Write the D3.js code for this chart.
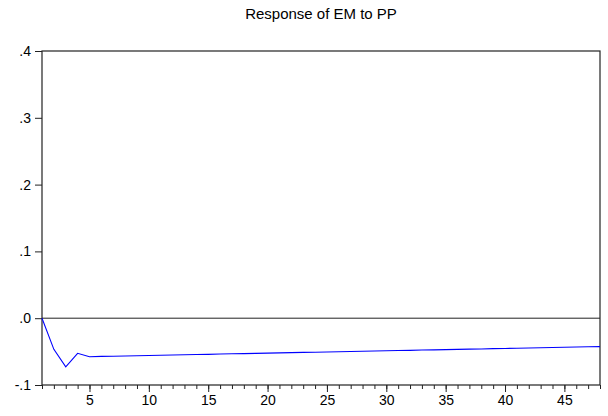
<!DOCTYPE html>
<html>
<head>
<meta charset="utf-8">
<script src="https://cdn.jsdelivr.net/npm/d3@7"></script>
<style>
  body { margin: 0; background: #fff; }
  text { font-family: "Liberation Sans", Arial, sans-serif; fill: #000; }
</style>
</head>
<body>
<div id="chart"></div>
<script>
// impulse response periods and values
var periods = d3.range(1, 49);
var response = [0, -0.0466, -0.0727, -0.0526, -0.0578,
  -0.0572, -0.0570, -0.0566, -0.0562, -0.0558, -0.0555, -0.0551, -0.0548, -0.0544, -0.0541,
  -0.0537, -0.0533, -0.0530, -0.0526, -0.0523, -0.0519, -0.0516, -0.0512, -0.0509, -0.0505,
  -0.0502, -0.0498, -0.0495, -0.0491, -0.0488, -0.0484, -0.0481, -0.0477, -0.0474, -0.0470,
  -0.0467, -0.0463, -0.0460, -0.0456, -0.0453, -0.0449, -0.0446, -0.0442, -0.0439, -0.0435,
  -0.0432, -0.0428, -0.0425];
var yTicks = [-0.1, 0, 0.1, 0.2, 0.3, 0.4];
var yTickLabels = ["-.1", ".0", ".1", ".2", ".3", ".4"];
var xMajor = [5, 10, 15, 20, 25, 30, 35, 40, 45];
var title = "Response of EM to PP";

var W = 608, H = 416;
var margin = {top: 51, right: 8, bottom: 31, left: 42};
var innerW = W - margin.left - margin.right,
    innerH = H - margin.top - margin.bottom;

var svg = d3.select("#chart").append("svg")
    .attr("width", W)
    .attr("height", H);

var g = svg.append("g")
    .attr("transform", "translate(" + margin.left + "," + margin.top + ")");

var x = d3.scaleLinear().domain([1, 48]).range([0, innerW]);
var y = d3.scaleLinear().domain([-0.1, 0.4]).range([innerH, 0]);

// frame
g.append("rect")
    .attr("x", 0).attr("y", 0)
    .attr("width", innerW).attr("height", innerH)
    .attr("fill", "none")
    .attr("stroke", "#222")
    .attr("stroke-width", 1.2);

// zero line
g.append("line")
    .attr("x1", 0).attr("x2", innerW)
    .attr("y1", y(0)).attr("y2", y(0))
    .attr("stroke", "#222")
    .attr("stroke-width", 1);

// y axis
var yAxis = d3.axisLeft(y)
    .tickValues(yTicks)
    .tickSize(7)
    .tickPadding(4)
    .tickFormat(function(d, i) { return yTickLabels[i]; });
var ya = g.append("g").call(yAxis);
ya.select(".domain").remove();
ya.selectAll("line").attr("stroke", "#222");
ya.selectAll("text").style("font-size", "14px").attr("fill", "#000");

// x axis: minor ticks every period, longer major ticks every 5
var xMinor = g.append("g")
    .attr("transform", "translate(0," + innerH + ")")
    .call(d3.axisBottom(x).tickValues(periods).tickSize(4).tickFormat(""));
xMinor.select(".domain").remove();
xMinor.selectAll("line").attr("stroke", "#222");

var xa = g.append("g")
    .attr("transform", "translate(0," + innerH + ")")
    .call(d3.axisBottom(x).tickValues(xMajor).tickSize(7).tickPadding(3).tickFormat(d3.format("d")));
xa.select(".domain").remove();
xa.selectAll("line").attr("stroke", "#222");
xa.selectAll("text").style("font-size", "14px").attr("fill", "#000");

// response line
var line = d3.line()
    .x(function(d, i) { return x(periods[i]); })
    .y(function(d) { return y(d); });

g.append("path")
    .datum(response)
    .attr("d", line)
    .attr("fill", "none")
    .attr("stroke", "#0000ff")
    .attr("stroke-width", 1.1);

// title
svg.append("text")
    .attr("x", margin.left + innerW / 2)
    .attr("y", 19)
    .attr("text-anchor", "middle")
    .style("font-size", "15px")
    .text(title);
</script>
</body>
</html>
